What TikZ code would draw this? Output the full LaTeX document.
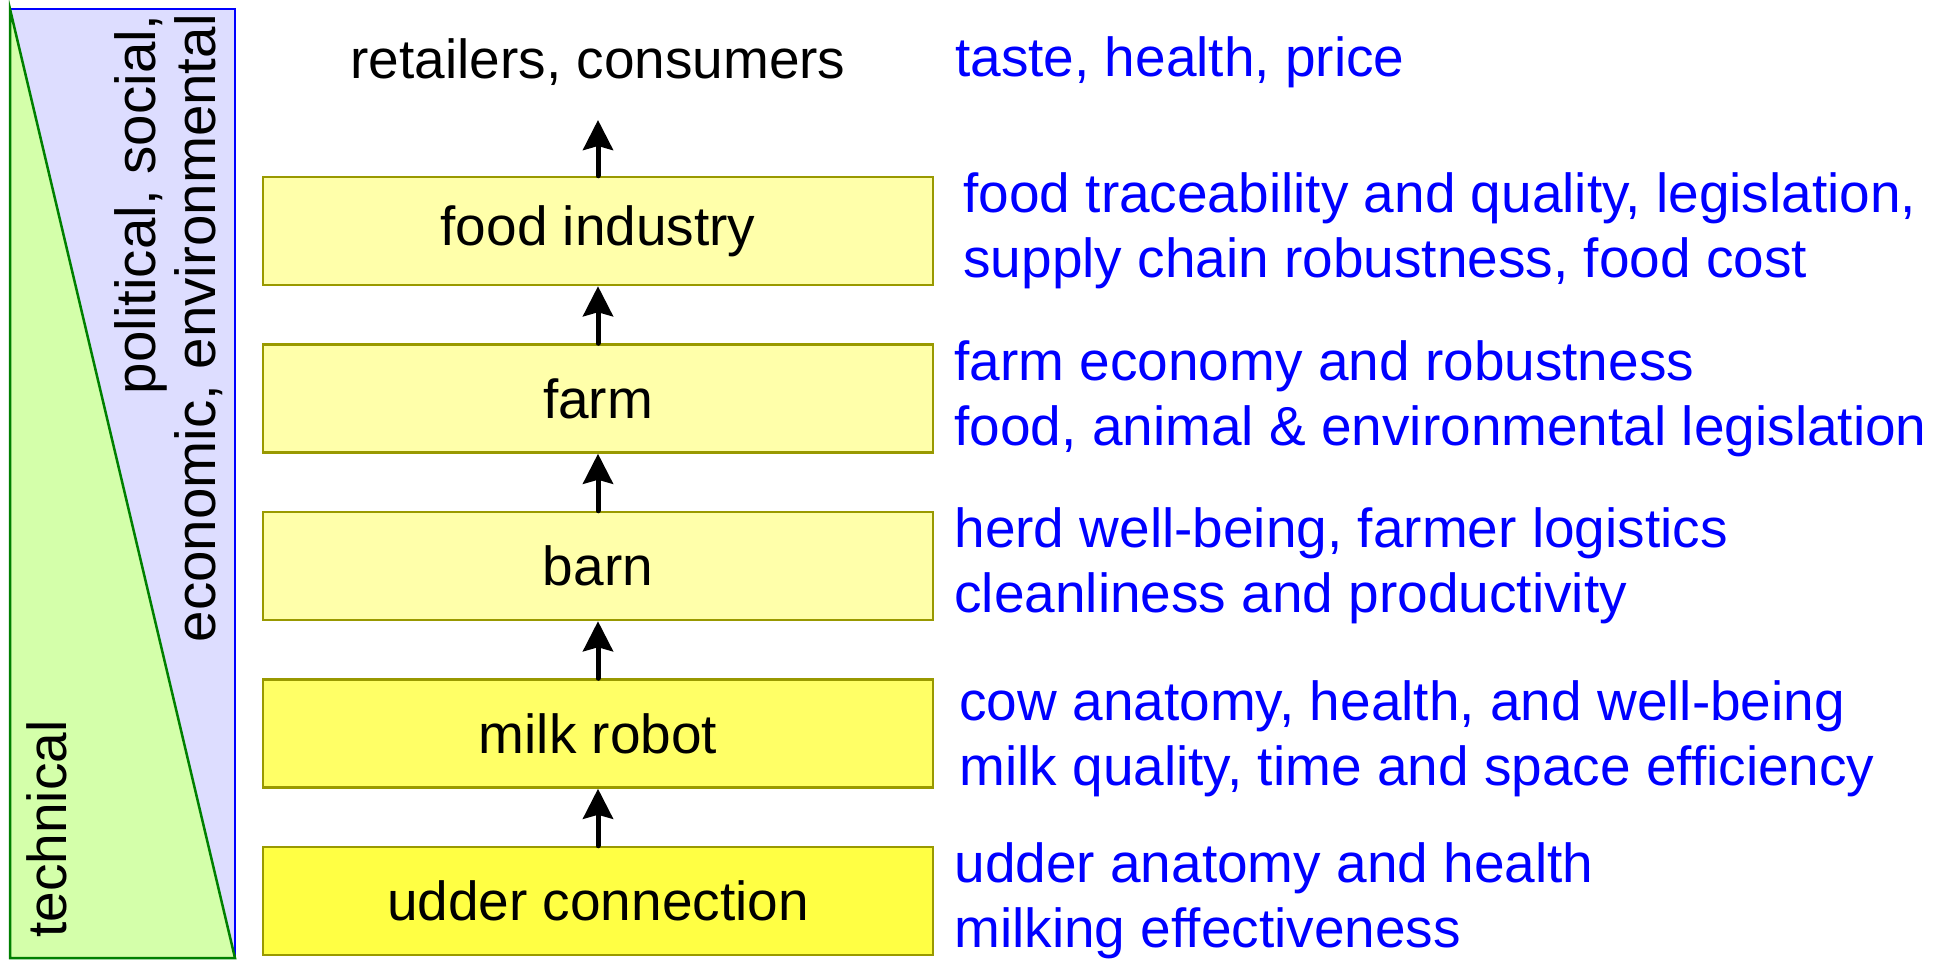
\documentclass[tikz,border=0pt]{standalone}
\usepackage{fontspec}
\setmainfont{Liberation Sans}
\usetikzlibrary{positioning,arrows.meta}
\definecolor{boxline}{HTML}{999900}
\definecolor{paleyellow}{HTML}{FFFFAA}
\definecolor{midyellow}{HTML}{FFFF66}
\definecolor{deepyellow}{HTML}{FFFF44}
\definecolor{techgreen}{HTML}{D4FFAA}
\definecolor{socialblue}{HTML}{DDDDFF}
\definecolor{darkgreen}{HTML}{008000}
\definecolor{needblue}{HTML}{0000FF}
\tikzset{stage/.style={draw=boxline, line width=2.5pt, minimum width=670pt, minimum height=108pt, inner sep=0pt},
  need/.style={text=needblue, align=left, inner sep=0pt},
  flow/.style={-{Stealth[width=30pt,length=30pt,inset=4pt]}, line width=5pt, line cap=round}}

\begin{document}
\begin{tikzpicture}[x=1pt, y=-1pt, font=\fontsize{55}{65}\selectfont]
    \useasboundingbox (0,0) rectangle (1946,962);
    % left panel
    \fill[techgreen] (10,9) -- (10,958) -- (235,958) -- cycle;
    \fill[socialblue] (10,9) -- (235,9) -- (235,958) -- cycle;
    \draw[needblue, line width=2.5pt] (10,9) -- (235,9) -- (235,958);
    \draw[darkgreen, line width=2.5pt] (235,958) -- (10,958) -- (10,9) -- cycle;
    \node[rotate=90, inner sep=0pt] (tech) at (47,829) {technical};
    \node[rotate=90, anchor=east, align=right, inner sep=0pt, font=\fontsize{56.5}{60}\selectfont] (society) at (169,14) {political, social,\\economic, environmental};
    % chain
    \node[stage, fill=deepyellow] (udder) at (598,901) {udder connection};
    \node[stage, fill=midyellow, above=57pt of udder] (robot) {milk robot};
    \node[stage, fill=paleyellow, above=57pt of robot] (barn) {barn};
    \node[stage, fill=paleyellow, above=57pt of barn] (farm) {farm};
    \node[stage, fill=paleyellow, above=57pt of farm] (food) {food industry};
    \node (market) at (598,62) {retailers, consumers};
    \coordinate (top) at (598,120);
    \draw[flow] (udder) -- (robot);
    \draw[flow] (robot) -- (barn);
    \draw[flow] (barn) -- (farm);
    \draw[flow] (farm) -- (food);
    \draw[flow] (food) -- (top);
    % requirements
    \node[need, anchor=west] (taste) at (955,62) {taste, health, price};
    \node[need, right=29pt of food] (foodneed) {food traceability and quality, legislation,\\supply chain robustness, food cost};
    \node[need, right=20pt of farm] (farmneed) {farm economy and robustness\\food, animal \& environmental legislation};
    \node[need, right=20pt of barn] (barnneed) {herd well-being, farmer logistics\\cleanliness and productivity};
    \node[need, right=25pt of robot, yshift=-5pt] (robotneed) {cow anatomy, health, and well-being\\milk quality, time and space efficiency};
    \node[need, right=20pt of udder] (udderneed) {udder anatomy and health\\milking effectiveness};
\end{tikzpicture}
\end{document}
